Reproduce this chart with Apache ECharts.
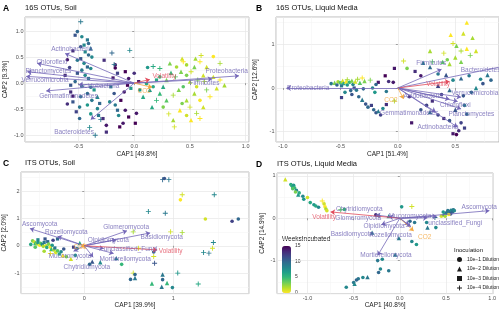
<!DOCTYPE html>
<html>
<head>
<meta charset="utf-8">
<script src="https://cdn.jsdelivr.net/npm/echarts@6/dist/echarts.min.js"></script>
<style>
  html, body { margin: 0; padding: 0; background: #fff; }
  #chart { width: 499px; height: 310px; }
</style>
</head>
<body>
<div id="chart"></div>
<script>
// panel texts
const letters = ['A', 'B', 'C', 'D'];
const titles = ['16S OTUs, Soil', '16S OTUs, Liquid Media', 'ITS OTUs, Soil', 'ITS OTUs, Liquid Media'];
const xNames = ['CAP1 [49.8%]', 'CAP1 [51.4%]', 'CAP1 [39.9%]', 'CAP1 [40.8%]'];
const yNames = ['CAP2 [9.3%]', 'CAP2 [12.6%]', 'CAP2 [2.0%]', 'CAP2 [14.9%]'];
const inocNames = ['10e\u22121 Dilution', '10e\u22122 Dilution', '10e\u22123 Dilution', '10e\u22124 Dilution'];
const weekTicks = [15, 10, 5, 0];

// points: [CAP1, CAP2, weeks incubated, inoculation (1..4)]
const ptsA = [
  [-0.48,1.18,9,4],[-0.51,0.99,10,1],[-0.53,0.92,11,3],[-0.47,0.89,8,1],[-0.42,0.83,9,3],[-0.41,0.76,10,1],
  [-0.45,0.73,8,3],[-0.48,0.70,11,1],[-0.39,0.67,9,2],[-0.44,0.60,8,3],[-0.41,0.54,10,1],[-0.38,0.50,8,1],
  [-0.48,0.47,11,3],[-0.51,0.44,9,1],[-0.45,0.38,8,1],[-0.42,0.31,10,3],[-0.39,0.28,8,1],[-0.47,0.25,9,1],
  [-0.51,0.19,11,3],[-0.44,0.15,8,1],[-0.41,0.09,9,3],[-0.53,0.03,10,1],[-0.57,-0.04,11,3],[-0.47,-0.06,8,1],
  [-0.39,-0.08,9,1],[-0.36,-0.13,7,3],[-0.42,-0.20,10,1],[-0.48,-0.26,9,1],[-0.33,-0.26,8,2],[-0.38,-0.33,9,1],
  [-0.31,-0.39,10,3],[-0.42,-0.42,7,1],[-0.49,-0.46,9,1],[-0.55,-0.36,11,3],[-0.57,-0.17,13,3],[-0.33,-0.49,8,1],
  [-0.49,-0.68,10,1],[-0.39,-0.59,7,1],[-0.32,-0.62,9,3],[-0.22,-0.36,8,1],[-0.17,-0.42,9,1],[-0.15,-0.52,10,3],
  [-0.14,-0.62,8,1],[-0.18,-0.20,11,1],[-0.21,-0.07,9,3],[-0.27,0.44,13,3],[-0.17,0.35,14,1],[-0.15,0.19,12,3],
  [-0.55,0.62,13,3],[-0.60,0.45,14,1],[-0.58,0.30,12,1],[-0.62,0.15,13,3],[-0.55,-0.25,14,3],[-0.60,-0.40,13,1],
  [-0.52,-0.55,12,3],[-0.20,0.58,10,4],[-0.18,0.36,9,4],[-0.30,-0.70,9,4],[-0.40,-0.85,8,4],[-0.35,-1.00,9,4],
  [-0.04,0.63,8,4],
  [-0.08,0.22,15,3],[-0.05,0.09,14,1],[-0.06,-0.04,15,3],[-0.09,-0.17,14,1],[-0.12,-0.33,15,3],[-0.08,-0.52,14,1],
  [-0.05,-0.65,15,3],[0.02,-0.58,14,1],[0.01,-0.77,15,3],[-0.10,-0.77,14,1],[-0.13,-0.84,15,3],[-0.25,-0.81,14,1],
  [-0.25,-0.94,13,3],[-0.17,0.29,15,1],[-0.19,0.10,14,3],[0.00,0.19,13,1],[0.04,0.03,14,3],[-0.28,-0.68,13,3],
  [0.23,0.28,5,4],[0.32,0.38,3,2],[0.38,0.31,2,1],[0.43,0.47,1,2],[0.44,0.41,0,4],[0.47,0.35,2,1],
  [0.51,0.22,1,4],[0.54,0.31,3,2],[0.59,0.41,0,4],[0.65,0.31,1,2],[0.71,0.51,0,1],[0.77,0.38,2,4],
  [0.62,0.15,1,2],[0.57,0.06,3,4],[0.50,0.03,2,2],[0.44,-0.07,4,1],[0.40,-0.13,3,2],[0.35,-0.23,2,4],
  [0.29,-0.33,4,2],[0.26,-0.46,3,1],[0.31,-0.59,1,4],[0.41,-0.52,0,2],[0.47,-0.62,1,1],[0.51,-0.71,0,2],
  [0.56,-0.58,2,4],[0.62,-0.46,1,2],[0.59,-0.33,0,1],[0.54,-0.20,2,2],[0.65,-0.13,3,4],[0.74,-0.10,1,2],
  [0.68,-0.26,0,4],[0.47,-0.33,2,2],[0.43,-0.39,3,1],[0.50,-0.46,1,4],[0.23,-0.20,5,2],[0.17,-0.07,6,1],
  [0.20,-0.33,5,4],[0.16,-0.46,6,2],[0.36,-0.84,1,4],[0.35,-0.71,2,2],[0.59,-0.68,0,4],[0.71,0.12,1,2],
  [0.77,0.06,0,4],[0.81,-0.04,2,2],[0.47,0.15,3,1],[0.37,0.12,4,4],[0.29,0.06,3,2],[0.56,-0.07,1,1],
  [0.63,0.03,2,4],[0.42,0.22,3,2],[0.55,0.47,2,2],[0.60,0.53,1,4],
  [0.11,-0.01,6,1],[0.14,-0.13,7,2],[0.20,0.06,6,3],[0.23,0.12,5,1],[0.26,-0.07,6,2],[0.05,-0.13,7,1],
  [0.08,-0.26,6,2],[-0.03,-0.10,7,3],[0.12,0.30,7,1],[0.33,0.20,5,2],[0.17,0.32,6,4]
];
const ptsB = [
  [-0.58,0.10,9,1],[-0.55,0.12,3,2],[-0.52,0.14,2,1],[-0.50,0.12,4,3],[-0.48,0.17,1,2],[-0.47,0.10,6,1],
  [-0.45,0.15,0,2],[-0.44,0.19,2,4],[-0.42,0.13,5,1],[-0.40,0.17,3,2],[-0.39,0.08,8,1],[-0.37,0.15,1,2],
  [-0.35,0.20,2,4],[-0.33,0.12,4,2],[-0.31,0.23,0,4],[-0.29,0.16,3,2],[-0.53,0.07,10,1],[-0.49,0.05,9,3],
  [-0.44,0.07,7,1],[-0.41,-0.06,10,1],[-0.38,0.00,11,3],[-0.36,-0.05,9,1],[-0.46,-0.10,8,1],[-0.49,-0.22,12,3],
  [-0.40,-0.15,11,1],[-0.34,-0.20,10,1],[-0.31,-0.27,9,2],[-0.28,-0.37,11,1],[-0.26,-0.44,10,1],[-0.23,-0.40,12,3],
  [-0.21,-0.50,10,1],[-0.19,-0.57,11,1],[-0.17,-0.53,9,2],[-0.15,-0.62,12,1],[-0.13,-0.47,8,1],[-0.10,-0.38,13,3],
  [-0.17,0.13,14,3],[-0.08,0.15,13,1],[-0.11,0.28,15,3],[-0.04,0.13,14,1],[-0.20,-0.10,7,1],[-0.22,0.00,8,1],
  [-0.24,0.18,3,4],[-0.19,0.08,10,1],[-0.03,-0.30,2,4],[-0.10,-0.08,9,1],[-0.30,-0.02,10,1],
  [0.60,1.50,0,2],[0.57,1.25,1,2],[0.65,1.15,2,2],[0.46,1.22,0,2],[0.48,1.02,1,4],[0.51,0.97,3,2],
  [0.55,0.85,2,4],[0.60,0.90,0,2],[0.40,0.80,1,4],[0.50,0.70,2,2],[0.63,0.75,3,4],[0.68,0.85,1,2],
  [0.28,0.85,2,2],[0.43,0.65,3,1],[0.39,0.60,4,2],[0.05,0.62,1,4],[0.08,0.45,3,1],[0.30,0.60,4,4],
  [0.45,0.55,2,2],[0.55,0.60,3,2],
  [0.15,0.38,13,3],[0.20,0.28,14,1],[0.28,0.48,10,2],[0.35,0.32,9,1],[0.42,0.30,11,2],[0.48,0.18,8,1],
  [0.55,0.22,10,2],[0.62,0.28,9,1],[0.72,0.20,8,1],[0.78,0.30,9,2],[0.81,0.18,10,1],[0.74,0.10,11,1],
  [0.68,0.00,8,2],[0.64,-0.10,10,1],[0.57,-0.18,11,1],[0.45,-0.05,10,2],[0.38,-0.15,12,1],[0.30,-0.30,13,3],
  [0.25,-0.40,12,1],[0.20,-0.50,11,1],[0.28,-0.55,10,2],[0.35,-0.62,12,1],[0.40,-0.70,13,3],[0.45,-0.75,11,1],
  [0.55,-0.80,12,1],[0.48,-1.05,14,3],[0.51,-1.07,15,1],[0.53,-0.98,13,1],[0.58,-0.92,12,3],[0.50,-0.50,11,2],
  [0.58,-0.40,9,1],[0.60,-0.60,10,1],[0.12,-0.80,14,3],[0.10,-0.20,13,1],[0.35,0.05,12,2],[-0.03,0.45,14,3],
  [0.22,0.58,9,2]
];
const ptsC = [
  [-0.58,0.18,3,1],[-0.56,0.14,1,1],[-0.55,0.10,5,2],[-0.53,0.07,2,1],[-0.52,0.12,7,3],[-0.50,0.02,0,1],
  [-0.49,0.09,4,1],[-0.47,0.05,8,3],[-0.46,-0.02,2,1],[-0.45,0.12,9,3],[-0.43,0.00,1,1],[-0.42,-0.06,6,1],
  [-0.41,0.15,10,3],[-0.40,0.06,3,1],[-0.38,-0.05,0,1],[-0.37,-0.12,5,2],[-0.36,0.02,7,1],[-0.34,-0.15,2,1],
  [-0.33,-0.08,9,3],[-0.32,-0.25,1,1],[-0.30,-0.18,4,1],[-0.28,-0.30,6,3],[-0.26,-0.22,8,1],[-0.24,-0.35,0,2],
  [-0.23,-0.12,11,1],[-0.45,-0.20,2,1],[-0.55,-0.05,4,1],[-0.60,0.05,6,1],[-0.52,0.22,8,3],[-0.44,0.25,11,3],
  [-0.35,0.20,12,1],[-0.30,0.25,10,3],[-0.38,-0.28,0,4],[-0.20,-0.40,3,1],[-0.15,-0.48,1,2],[-0.10,-0.35,7,1],
  [-0.08,-0.10,9,1],[-0.05,0.10,6,2],[-0.12,-0.05,12,3],
  [0.88,2.42,10,4],[0.90,2.46,11,1],[0.95,2.42,9,4],[1.10,1.87,1,4],[1.08,1.68,0,1],[1.46,1.87,8,4],
  [0.72,1.25,8,4],[0.91,1.19,9,4],[1.36,0.98,1,1],[1.66,0.90,12,1],[1.73,0.98,10,1],[0.97,0.51,1,4],
  [1.10,0.49,2,4],[0.55,0.51,2,4],[1.45,0.12,8,4],[1.44,-0.09,1,4],[1.34,-0.25,8,4],[1.40,-0.27,9,4],
  [0.78,-0.23,10,1],[0.78,-0.39,1,4],[0.79,-0.64,11,4],[0.61,-0.09,1,4],[0.42,-0.68,5,1],[0.55,-1.00,1,4],
  [0.52,-1.23,10,1],[0.57,-1.18,9,2],[0.57,-1.05,10,1],[0.76,-1.38,5,2],[0.88,-1.05,9,2],[0.88,-1.24,10,1],
  [0.93,-1.36,5,2],[0.87,-1.50,9,2],[0.99,-1.53,8,1],[1.05,-1.00,7,4],[1.28,-1.40,6,4],[0.36,-0.45,9,2],
  [0.18,-0.60,8,2],[0.09,-0.58,11,2],[0.06,-0.68,10,1]
];
const ptsD = [
  [-1.24,0.92,1,2],[-1.18,0.80,6,1],[-1.17,0.77,5,1],[-1.16,0.74,6,3],[-1.15,0.78,7,1],[-1.14,0.72,5,1],
  [-1.16,0.70,4,1],[-1.12,0.66,8,1],[-1.10,0.56,7,2],[-1.09,0.60,6,1],[-1.05,0.52,8,1],[-1.04,0.45,7,1],
  [-1.00,0.49,1,1],[-0.97,0.37,6,1],[-0.93,0.32,7,1],[-0.91,0.29,6,1],[-0.88,0.26,8,1],[-0.84,0.41,0,4],
  [-0.82,0.34,1,1],[-0.81,0.27,0,1],[-0.80,0.22,2,1],[-0.79,0.18,1,1],[-0.64,0.20,4,4],[-0.60,0.21,5,1],
  [-1.13,0.62,3,1],
  [0.02,0.27,7,1],[0.13,0.28,1,4],[-0.26,0.08,13,1],[-0.23,0.06,9,1],[-0.12,0.05,8,2],[0.11,-0.07,10,1],
  [0.16,-0.10,9,1],[0.29,-0.10,8,1],[0.30,-0.22,9,2],[0.39,-0.22,8,1],[-0.30,-0.34,9,2],[-0.01,-0.47,9,2],
  [0.13,-0.55,8,1],[0.18,-0.62,7,1],[-0.05,-0.86,9,2],[-0.19,-0.97,8,1],[-0.24,-1.00,9,1],[-0.21,-1.20,8,1],
  [-0.12,-1.24,9,1],[-0.23,-1.28,10,1],[-0.35,-1.39,9,2],[-0.40,-1.40,8,1],[-0.45,-1.43,9,1],[-0.47,-1.46,10,1],
  [-0.50,-1.52,9,1],[-0.49,-1.55,8,2],[-0.58,-1.63,8,1],[0.45,0.05,1,1],[0.38,0.02,10,4],
  [0.48,0.08,9,1],[0.50,0.11,8,1],[0.51,0.14,10,1],[0.52,0.12,9,3],[0.53,0.16,8,1],[0.54,0.13,10,1],
  [0.55,0.17,9,1],[0.56,0.19,8,3],[0.57,0.15,10,1],[0.58,0.20,9,1],[0.55,0.10,11,1],[0.53,0.09,0,1],
  [0.59,0.18,8,1],[0.52,0.18,9,1],[0.49,0.05,2,1],[0.47,0.15,7,1]
];

// arrows: [name, tip CAP1, tip CAP2, label CAP1, label CAP2, kind]
const arrowsA = [
  ['Actinobacteria', -0.62, 0.57, -0.56, 0.65, 't'],
  ['Chloroflexi', -0.87, 0.38, -0.74, 0.40, 't'],
  ['Planctomycetes', -0.96, 0.22, -0.77, 0.23, 't'],
  ['Verrucomicrobia', -0.97, 0.13, -0.80, 0.06, 't'],
  ['Gemmatimonadetes', -0.79, -0.15, -0.59, -0.26, 't'],
  ['Acidobacteria', -0.50, -0.03, -0.31, -0.05, 't'],
  ['Bacteroidetes', -0.39, -0.70, -0.54, -0.95, 't'],
  ['Proteobacteria', 0.94, 0.14, 0.83, 0.22, 't'],
  ['Firmicutes', 0.70, 0.08, 0.63, -0.01, 't'],
  ['Volatility', 0.14, 0.07, 0.27, 0.13, 'v'],
  ['CO2', 0.16, -0.08, 0.09, -0.16, 'c']
];
const arrowsB = [
  ['Proteobacteria', -0.97, 0.00, -0.78, 0.00, 't'],
  ['Firmicutes', 0.38, 0.43, 0.29, 0.58, 't'],
  ['Bacteroidetes', 0.92, 0.50, 0.72, 0.40, 't'],
  ['Volatility', 0.45, 0.15, 0.35, 0.09, 'v'],
  ['Verrucomicrobia', 0.55, -0.21, 0.67, -0.13, 't'],
  ['Chloroflexi', 0.52, -0.31, 0.50, -0.39, 't'],
  ['Acidobacteria', 0.45, -0.26, 0.22, -0.18, 't'],
  ['Planctomycetes', 0.55, -0.48, 0.64, -0.61, 't'],
  ['Gemmatimonadetes', 0.33, -0.55, 0.10, -0.59, 't'],
  ['Actinobacteria', 0.52, -0.90, 0.35, -0.90, 't'],
  ['CO2', 0.05, -0.25, -0.06, -0.29, 'c']
];
const arrowsC = [
  ['Ascomycota', -0.61, 0.63, -0.50, 0.78, 't'],
  ['Rozellomycota', -0.30, 0.35, -0.20, 0.49, 't'],
  ['Glomeromycota', 0.48, 0.55, 0.47, 0.67, 't'],
  ['Basidiomycota', 0.74, 0.47, 0.87, 0.32, 't'],
  ['Olpidiomycota', 0.36, 0.22, 0.27, 0.19, 't'],
  ['unclassified_Fungi', 0.22, -0.10, 0.52, -0.12, 't'],
  ['Volatility', 0.82, -0.15, 0.97, -0.21, 'v'],
  ['Mucoromycota', -0.12, -0.20, -0.16, -0.39, 't'],
  ['Mortierellomycota', 0.33, -0.28, 0.46, -0.50, 't'],
  ['Chytridiomycota', 0.10, -0.42, 0.03, -0.80, 't'],
  ['CO2', -0.04, -0.03, -0.045, -0.04, 'c']
];
const arrowsD = [
  ['Ascomycota', 0.97, 0.18, 0.86, 0.26, 't'],
  ['unclassified_Fungi', 0.40, 0.05, 0.60, -0.11, 't'],
  ['Chytridiomycota', -0.26, 0.08, -0.44, 0.22, 't'],
  ['Glomeromycota', -0.12, 0.04, -0.45, 0.00, 't'],
  ['Mucoromycota', 0.30, 0.01, 0.11, 0.04, 't'],
  ['Volatility', -0.75, 0.15, -0.82, 0.02, 'v'],
  ['Olpidiomycota', 0.10, -0.16, -0.17, -0.19, 't'],
  ['CO2', 0.15, -0.30, 0.27, -0.45, 'c'],
  ['Basidiomycota', -0.20, -0.15, -0.52, -0.37, 't'],
  ['Rozellomycota', 0.12, -0.20, -0.10, -0.40, 't'],
  ['Mortierellomycota', -0.24, -0.88, -0.15, -0.88, 't']
];

const points = [ptsA, ptsB, ptsC, ptsD];
const arrows = [arrowsA, arrowsB, arrowsC, arrowsD];

// layout
const FONT = '"Liberation Sans", Arial, sans-serif';
const grids = [
  { left: 25, top: 17, width: 224, height: 125 },
  { left: 276, top: 17, width: 223, height: 125 },
  { left: 21, top: 172, width: 228, height: 127 },
  { left: 277, top: 173, width: 222, height: 126 }
];
const xRange = [[-0.98, 1.03], [-1.06, 0.88], [-0.71, 1.85], [-1.33, 1.01]];
const yRange = [[-1.13, 1.27], [-1.24, 1.63], [-1.75, 2.7], [-1.78, 1.07]];
const xSplit = [4, 4, 3, 5], ySplit = [5, 3, 4, 3];
const xDec = [1, 1, 0, 1], yDec = [1, 0, 0, 0];
const yGap = [16.5, 17.5, 13, 11.5];
const xGap = [8.5, 8.5, 8, 8];

const ARROW = { t: '#7467b8', v: '#e14b5c', c: '#f4a63e' };
const TEXT = { t: '#6d61b2', v: '#e14b5c', c: '#f4a63e' };
const PLUS = 'path://M-0.18,-1h0.36v0.82h0.82v0.36h-0.82v0.82h-0.36v-0.82h-0.82v-0.36h0.82z';
const SYMBOLS = ['circle', 'triangle', 'rect', PLUS];
const SIZES = [3.6, 4.4, 3.2, 5];
const VIRIDIS = ['#fde725', '#b5de2b', '#6ece58', '#35b779', '#1f9e89', '#26828e', '#31688e', '#3e4989', '#482878', '#440154'];

function axisCommon(dec) {
  return {
    type: 'value',
    axisLine: { show: false },
    axisTick: { show: true, length: 2, lineStyle: { color: '#666', width: 0.6 } },
    axisLabel: { fontSize: 5.5, color: '#4d4d4d', fontFamily: FONT, margin: 1.5,
      showMinLabel: false, showMaxLabel: false,
      formatter: v => v.toFixed(dec) },
    splitLine: { show: true, lineStyle: { color: '#e6e6e6', width: 0.7 } },
    minorTick: { show: false, splitNumber: 2 },
    minorSplitLine: { show: true, lineStyle: { color: '#f3f3f3', width: 0.5 } },
    nameLocation: 'middle',
    nameTextStyle: { fontSize: 6.5, color: '#222', fontFamily: FONT }
  };
}

const xAxis = [], yAxis = [], series = [], scatterIdx = [], graphic = [];
for (let i = 0; i < 4; i++) {
  xAxis.push(Object.assign(axisCommon(xDec[i]), {
    gridIndex: i, min: xRange[i][0], max: xRange[i][1], splitNumber: xSplit[i],
    name: xNames[i], nameGap: xGap[i]
  }));
  yAxis.push(Object.assign(axisCommon(yDec[i]), {
    gridIndex: i, min: yRange[i][0], max: yRange[i][1], splitNumber: ySplit[i],
    name: yNames[i], nameGap: yGap[i]
  }));

  scatterIdx.push(series.length);
  series.push({
    type: 'scatter', xAxisIndex: i, yAxisIndex: i, z: 2, silent: true,
    data: points[i],
    symbol: v => SYMBOLS[v[3] - 1],
    symbolSize: v => SIZES[v[3] - 1],
    itemStyle: { opacity: 1 }
  });
  series.push({
    type: 'lines', coordinateSystem: 'cartesian2d', xAxisIndex: i, yAxisIndex: i, z: 3, silent: true,
    symbol: ['none', 'arrow'], symbolSize: 4.5,
    lineStyle: { width: 0.8, opacity: 1 },
    data: arrows[i].map(a => ({ coords: [[0, 0], [a[1], a[2]]], lineStyle: { color: ARROW[a[5]] } }))
  });
  series.push({
    type: 'scatter', xAxisIndex: i, yAxisIndex: i, z: 4, silent: true, symbolSize: 0,
    label: { show: true, position: 'inside', formatter: '{b}', fontSize: 6.5, fontFamily: FONT },
    data: arrows[i].map(a => ({ name: a[0], value: [a[3], a[4]], label: { color: TEXT[a[5]] } }))
  });

  const g = grids[i];
  graphic.push({ type: 'text', left: i % 2 ? 256 : 3, top: g.top - 13,
    style: { text: letters[i], font: 'bold 8.5px ' + FONT, fill: '#000' } });
  graphic.push({ type: 'text', left: i % 2 ? g.left : 25, top: g.top - 13,
    style: { text: titles[i], font: '7.5px ' + FONT, fill: '#111' } });
}

// legend-only series for the inoculation symbols
inocNames.forEach((n, k) => {
  series.push({ type: 'scatter', name: n, xAxisIndex: 3, yAxisIndex: 3, data: [],
    symbol: SYMBOLS[k], symbolSize: SIZES[k], itemStyle: { color: '#1a1a1a', opacity: 1 } });
});

graphic.push({ type: 'text', left: 282, top: 236, style: { text: 'WeeksIncubated', font: '6.5px ' + FONT, fill: '#111' } });
const barTop = 246, barH = 47;
weekTicks.forEach(w => {
  graphic.push({ type: 'text', left: 295, top: barTop + (15 - w) / 15 * barH - 3,
    style: { text: String(w), font: '5px ' + FONT, fill: '#333' } });
});
graphic.push({ type: 'text', left: 454, top: 247, style: { text: 'Inoculation', font: '6px ' + FONT, fill: '#111' } });

const chart = echarts.init(document.getElementById('chart'));
chart.setOption({
  animation: false,
  backgroundColor: '#fff',
  grid: grids.map(g => Object.assign({ show: true, borderColor: '#aaa', borderWidth: 0.8, containLabel: false }, g)),
  xAxis: xAxis,
  yAxis: yAxis,
  visualMap: {
    type: 'continuous', min: 0, max: 15, dimension: 2, seriesIndex: scatterIdx,
    inRange: { color: VIRIDIS, opacity: 1 }, calculable: false, orient: 'vertical',
    left: 282, top: barTop, itemWidth: 9, itemHeight: barH, padding: 0
  },
  legend: {
    data: inocNames, orient: 'vertical', left: 457, top: 257, padding: 0,
    itemWidth: 5, itemHeight: 5, itemGap: 4.5, selectedMode: false,
    textStyle: { fontSize: 5, color: '#222', fontFamily: FONT }
  },
  graphic: graphic,
  series: series
});
</script>
</body>
</html>
